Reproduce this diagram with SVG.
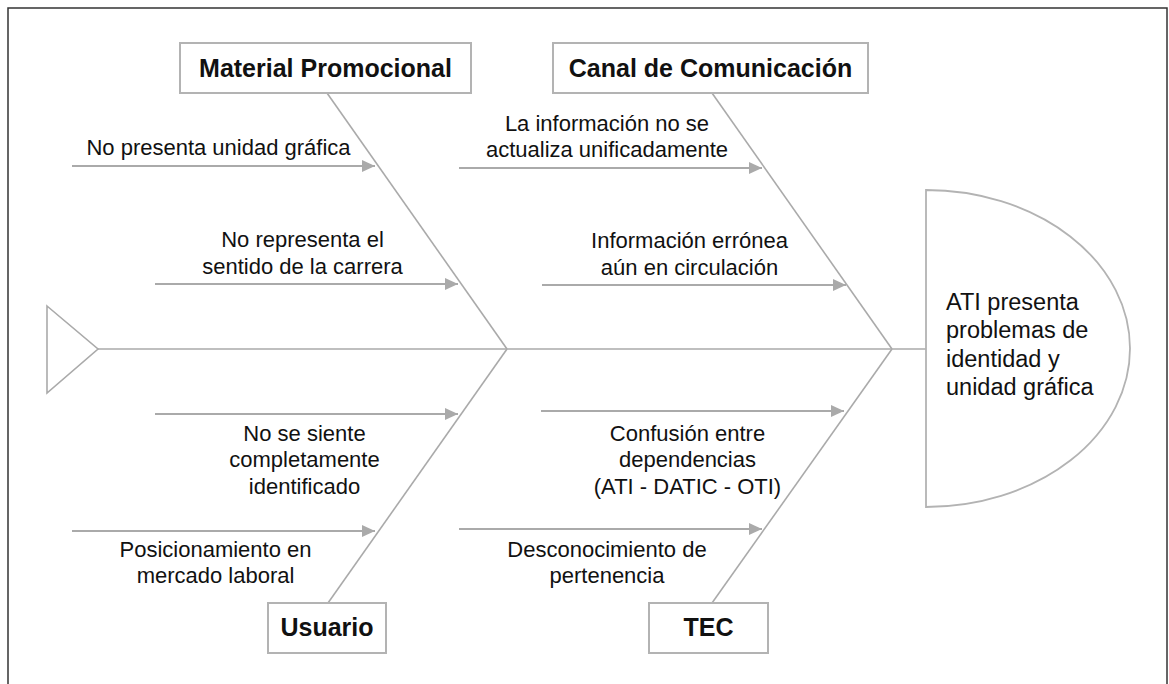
<svg xmlns="http://www.w3.org/2000/svg" width="1169" height="684" viewBox="0 0 1169 684">
<style>
.t{font-family:"Liberation Sans",Arial,sans-serif;font-size:22px;fill:#111;text-anchor:middle}
.h{font-family:"Liberation Sans",Arial,sans-serif;font-size:23.5px;fill:#111}
.b{font-family:"Liberation Sans",Arial,sans-serif;font-size:25px;font-weight:bold;fill:#111;text-anchor:middle}
.box{fill:#fff;stroke:#b3b3b3;stroke-width:2}
.ln{stroke:#aaa;stroke-width:1.6;fill:none}
.ar{stroke:#aaa;stroke-width:2;fill:none;marker-end:url(#ah)}
</style>
<defs>
<marker id="ah" markerUnits="userSpaceOnUse" markerWidth="14" markerHeight="14" refX="13" refY="6" orient="auto">
<path d="M0,0 L13,6 L0,12 z" fill="#aaa"/>
</marker>
</defs>
<rect x="0" y="0" width="1169" height="684" fill="#fff"/>
<rect x="8" y="8" width="1159" height="700" fill="none" stroke="#333" stroke-width="1.5"/>
<g id="connectors">
<line class="ln" x1="98" y1="349" x2="926" y2="349"/>
<line class="ln" x1="327" y1="93" x2="507" y2="349"/>
<line class="ln" x1="712" y1="93" x2="892" y2="349"/>
<line class="ln" x1="328" y1="603" x2="507" y2="349"/>
<line class="ln" x1="712" y1="603" x2="892" y2="349"/>
<line class="ar" x1="72" y1="166" x2="375" y2="166"/>
<line class="ar" x1="155" y1="284" x2="458" y2="284"/>
<line class="ar" x1="459" y1="168" x2="762" y2="168"/>
<line class="ar" x1="542" y1="285" x2="846" y2="285"/>
<line class="ar" x1="155" y1="414" x2="458" y2="414"/>
<line class="ar" x1="72" y1="531" x2="375" y2="531"/>
<line class="ar" x1="541" y1="411" x2="844" y2="411"/>
<line class="ar" x1="459" y1="529" x2="762" y2="529"/>
</g>
<g id="tail">
<polygon points="47,306 98,349 47,393" fill="#fff" stroke="#aaa" stroke-width="1.6"/>
</g>
<g id="head">
<path d="M926,190 A204,158.5 0 0 1 926,507 Z" fill="#fff" stroke="#b3b3b3" stroke-width="1.8"/>
<text class="h" x="946"><tspan x="946" y="310">ATI presenta</tspan><tspan x="946" y="338">problemas de</tspan><tspan x="946" y="367">identidad y</tspan><tspan x="946" y="395">unidad gráfica</tspan></text>
</g>
<g id="cat-material">
<rect class="box" x="180" y="43" width="291" height="50"/>
<text class="b" x="325.5" y="77">Material Promocional</text>
</g>
<g id="cat-canal">
<rect class="box" x="553" y="43" width="315" height="50"/>
<text class="b" x="710.5" y="77">Canal de Comunicación</text>
</g>
<g id="cat-usuario">
<rect class="box" x="268" y="603" width="118" height="50"/>
<text class="b" x="327" y="636">Usuario</text>
</g>
<g id="cat-tec">
<rect class="box" x="649" y="603" width="119" height="50"/>
<text class="b" x="708.5" y="636">TEC</text>
</g>
<g id="cause-1"><text class="t" x="218.5" y="155">No presenta unidad gráfica</text></g>
<g id="cause-2"><text class="t"><tspan x="302.5" y="246.5">No representa el</tspan><tspan x="302.5" y="273.5">sentido de la carrera</tspan></text></g>
<g id="cause-3"><text class="t"><tspan x="607" y="130.5">La información no se</tspan><tspan x="607" y="157">actualiza unificadamente</tspan></text></g>
<g id="cause-4"><text class="t"><tspan x="689.5" y="248">Información errónea</tspan><tspan x="689.5" y="275">aún en circulación</tspan></text></g>
<g id="cause-5"><text class="t"><tspan x="304.5" y="440.5">No se siente</tspan><tspan x="304.5" y="467">completamente</tspan><tspan x="304.5" y="493.5">identificado</tspan></text></g>
<g id="cause-6"><text class="t"><tspan x="215.5" y="556.5">Posicionamiento en</tspan><tspan x="215.5" y="583">mercado laboral</tspan></text></g>
<g id="cause-7"><text class="t"><tspan x="687.5" y="440.5">Confusión entre</tspan><tspan x="687.5" y="467">dependencias</tspan><tspan x="687.5" y="493.5">(ATI - DATIC - OTI)</tspan></text></g>
<g id="cause-8"><text class="t"><tspan x="607" y="556.5">Desconocimiento de</tspan><tspan x="607" y="583">pertenencia</tspan></text></g>
</svg>
